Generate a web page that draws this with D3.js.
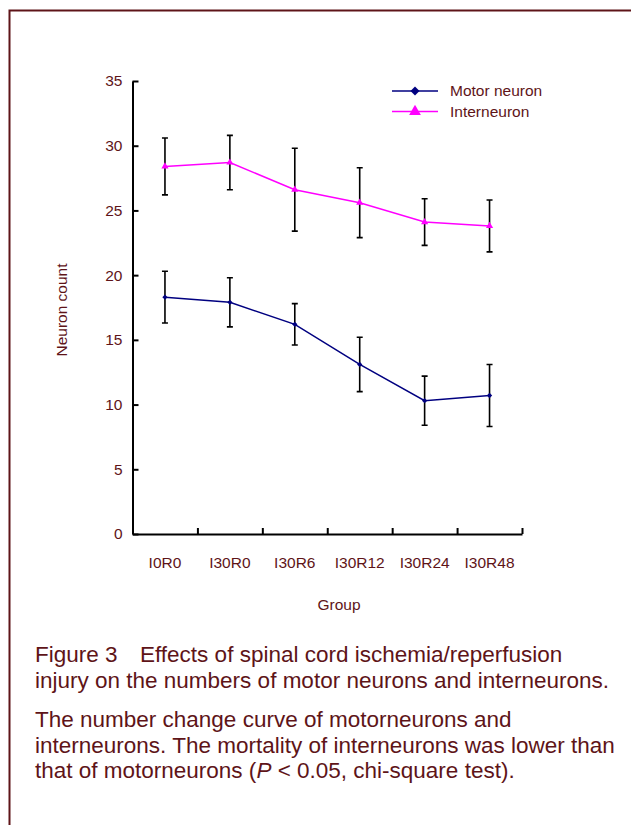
<!DOCTYPE html>
<html lang="en">
<head>
<meta charset="UTF-8">
<title>Neuron count</title>
<script src="https://cdn.jsdelivr.net/npm/d3@7"></script>
<style>
    * { margin: 0; padding: 0; }
    body { background: #fff; }
    text { font-family: "Liberation Sans", Arial, sans-serif; }
</style>
</head>
<body>
<script>
    // data
    const groups = ['I0R0', 'I30R0', 'I30R6', 'I30R12', 'I30R24', 'I30R48']
    const motorMean = [18.3, 17.9, 16.2, 13.1, 10.3, 10.7]
    const motorErr = [2.0, 1.9, 1.6, 2.1, 1.9, 2.4]
    const interMean = [28.4, 28.7, 26.6, 25.6, 24.1, 23.8]
    const interErr = [2.2, 2.1, 3.2, 2.7, 1.8, 2.0]
    const yTicks = [0, 5, 10, 15, 20, 25, 30, 35]

    const width = 631
    const height = 825
    const ink = '#5e1418'

    const svg = d3.select('body').append('svg')
        .attr('width', width)
        .attr('height', height)

    // frame
    svg.append('path')
        .attr('d', 'M9.5,' + height + 'V10.5H' + width)
        .attr('fill', 'none')
        .attr('stroke', ink)
        .attr('stroke-width', 2)

    const plot = { left: 132.5, right: 522, top: 81, bottom: 534 }

    const x = d3.scaleBand().domain(groups).range([plot.left, plot.right])
    const xEdge = d3.scaleLinear().domain([0, groups.length]).range([plot.left, plot.right])
    const y = d3.scaleLinear().domain([0, 35]).range([plot.bottom, plot.top])
    const cx = d => x(d) + x.bandwidth() / 2

    // y axis
    const gy = svg.append('g')
        .attr('transform', 'translate(' + plot.left + ',0)')
        .call(d3.axisLeft(y).tickValues(yTicks).tickSizeInner(-6).tickSizeOuter(0).tickPadding(10))
    gy.select('.domain').attr('stroke', '#000').attr('stroke-width', 2)
    gy.selectAll('.tick line').attr('stroke', '#000').attr('stroke-width', 2)
    gy.selectAll('.tick text').attr('fill', ink).style('font-size', '15.5px')

    // x axis: ticks between groups, labels under the centres
    const gx = svg.append('g')
        .attr('transform', 'translate(0,' + plot.bottom + ')')
        .call(d3.axisBottom(xEdge).tickValues(d3.range(1, groups.length + 1)).tickSizeInner(-6).tickSizeOuter(0).tickFormat(''))
    gx.select('.domain').attr('stroke', '#000').attr('stroke-width', 2)
    gx.selectAll('.tick line').attr('stroke', '#000').attr('stroke-width', 2)

    const gl = svg.append('g')
        .attr('transform', 'translate(0,' + plot.bottom + ')')
        .call(d3.axisBottom(x).tickSize(0).tickPadding(23))
    gl.select('.domain').remove()
    gl.selectAll('.tick text').attr('fill', ink).style('font-size', '15.5px')

    // axis titles
    svg.append('text')
        .attr('x', 339).attr('y', 610)
        .attr('text-anchor', 'middle')
        .attr('fill', ink)
        .style('font-size', '15.5px')
        .text('Group')

    svg.append('text')
        .attr('transform', 'translate(67,310) rotate(-90)')
        .attr('text-anchor', 'middle')
        .attr('fill', ink)
        .style('font-size', '15.5px')
        .text('Neuron count')

    // series
    const series = [
        { name: 'Motor neuron', mean: motorMean, err: motorErr, color: '#000080', marker: d3.symbolSquare, rot: 45 },
        { name: 'Interneuron', mean: interMean, err: interErr, color: '#ff00ff', marker: d3.symbolTriangle, rot: 0 }
    ]

    const line = d3.line()
        .x((d, i) => cx(groups[i]))
        .y(d => y(d))

    series.forEach(s => {
        const g = svg.append('g')
        // error bars
        g.selectAll('.err')
            .data(s.mean)
            .enter()
            .append('path')
            .attr('d', (d, i) => {
                const px = cx(groups[i])
                const t = y(d + s.err[i])
                const b = y(d - s.err[i])
                return 'M' + (px - 3) + ',' + t + 'H' + (px + 3) +
                    'M' + px + ',' + t + 'V' + b +
                    'M' + (px - 3) + ',' + b + 'H' + (px + 3)
            })
            .attr('fill', 'none')
            .attr('stroke', '#000')
            .attr('stroke-width', 1.6)

        g.append('path')
            .datum(s.mean)
            .attr('d', line)
            .attr('fill', 'none')
            .attr('stroke', s.color)
            .attr('stroke-width', 1.5)

        g.selectAll('.pt')
            .data(s.mean)
            .enter()
            .append('path')
            .attr('transform', (d, i) => 'translate(' + cx(groups[i]) + ',' + y(d) + ') rotate(' + s.rot + ')')
            .attr('d', d3.symbol().type(s.marker).size(s.rot ? 14 : 22))
            .attr('fill', s.color)
    })

    // legend
    const legend = svg.append('g')
    series.forEach((s, i) => {
        const ly = 91 + i * 20.5
        legend.append('line')
            .attr('x1', 392).attr('x2', 438)
            .attr('y1', ly).attr('y2', ly)
            .attr('stroke', s.color)
            .attr('stroke-width', 1.5)
        legend.append('path')
            .attr('transform', 'translate(415,' + ly + ') rotate(' + s.rot + ')')
            .attr('d', d3.symbol().type(s.marker).size(s.rot ? 40 : 60))
            .attr('fill', s.color)
        legend.append('text')
            .attr('x', 450).attr('y', ly)
            .attr('dy', '0.33em')
            .attr('fill', ink)
            .style('font-size', '15.5px')
            .text(s.name)
    })

    // caption
    const cap = svg.append('g').attr('fill', ink).style('font-size', '22.5px')
    const t1 = cap.append('text').attr('x', 35).attr('y', 662)
    t1.append('tspan').text('Figure 3')
    t1.append('tspan').attr('x', 140).text('Effects of spinal cord ischemia/reperfusion')
    cap.append('text').attr('x', 35).attr('y', 688)
        .text('injury on the numbers of motor neurons and interneurons.')
    cap.append('text').attr('x', 35).attr('y', 727)
        .text('The number change curve of motorneurons and')
    cap.append('text').attr('x', 35).attr('y', 753)
        .text('interneurons. The mortality of interneurons was lower than')
    const t5 = cap.append('text').attr('x', 35).attr('y', 778)
    t5.append('tspan').text('that of motorneurons (')
    t5.append('tspan').style('font-style', 'italic').text('P')
    t5.append('tspan').text(' < 0.05, chi-square test).')
</script>
</body>
</html>
